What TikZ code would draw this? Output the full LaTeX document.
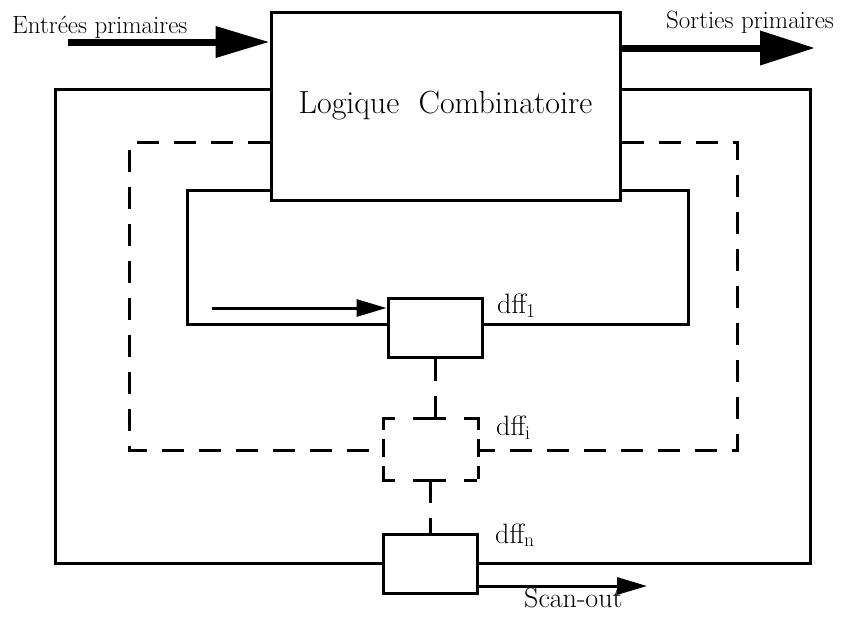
\documentclass[tikz,border=0pt]{standalone}
\usepackage{fontspec}
\usetikzlibrary{arrows.meta}
\begin{document}
\begin{tikzpicture}[x=1pt, y=-1pt,
    wire/.style={line width=3pt},
    dashwire/.style={line width=3pt, dash pattern=on 22pt off 15pt},
    bigarrow/.style={line width=7pt, -{Triangle[length=54pt, width=30pt]}},
    smallarrow/.style={line width=3pt, -{Triangle[length=30pt, width=17pt]}},
    ffbox/.style={draw, line width=3pt, minimum width=94pt, minimum height=59pt, inner sep=0pt},
    lbl/.style={inner sep=0pt, anchor=base west}]

	\useasboundingbox (0,0) rectangle (849,619);

	\node[draw, line width=3pt, minimum width=349pt, minimum height=188pt,
		font=\fontsize{32}{38}\selectfont] (logic) at (445.5,106) {Logique~ Combinatoire};

	\node[ffbox] (dff1) at (435,327.5) {};
	\node[ffbox, draw=none, minimum width=92pt] (dffi) at (431,449.5) {};
	\node[ffbox] (dffn) at (430,564) {};

	% dashed flip-flop
	\draw[line width=3pt, line cap=rect, dash pattern=on 10pt off 21pt on 30pt off 21pt on 10pt]
		(dffi.north west) -- (dffi.north east) (dffi.south west) -- (dffi.south east);
	\draw[line width=3pt, line cap=rect, dash pattern=on 10pt off 12pt on 15pt off 12pt on 10pt]
		(dffi.north west) -- (dffi.south west) (dffi.north east) -- (dffi.south east);

	\coordinate (outerTL) at (55,89);
	\coordinate (outerBL) at (55,563);
	\coordinate (outerTR) at (810,89);
	\coordinate (outerBR) at (810,563);
	\coordinate (innerTL) at (187,190);
	\coordinate (innerBL) at (187,324);
	\coordinate (innerTR) at (688,190);
	\coordinate (innerBR) at (688,324);
	\coordinate (dashTL) at (129,142);
	\coordinate (dashBL) at (129,450);
	\coordinate (dashTR) at (737,142);
	\coordinate (dashBR) at (737,450);

	\draw[wire] (outerTL -| logic.west) -- (outerTL) -- (outerBL) -- (outerBL -| dffn.west);
	\draw[wire] (outerTR -| logic.east) -- (outerTR) -- (outerBR) -- (outerBR -| dffn.east);
	\draw[wire] (innerTL -| logic.west) -- (innerTL) -- (innerBL) -- (innerBL -| dff1.west);
	\draw[wire] (innerTR -| logic.east) -- (innerTR) -- (innerBR) -- (innerBR -| dff1.east);
	\draw[dashwire] (dashTL -| logic.west) -- (dashTL) -- (dashBL) -- (dashBL -| dffi.west);
	\draw[dashwire] (dashTR -| logic.east) -- (dashTR) -- (dashBR) -- (dashBR -| dffi.east);
	\draw[dashwire] (dff1.south) -- (dff1.south |- dffi.north);
	\draw[dashwire] (dffn.north |- dffi.south) -- (dffn.north);

	% primary inputs and outputs
	\coordinate (inTail) at (68,42);
	\coordinate (outHead) at (815,48);
	\draw[bigarrow] (inTail) -- (inTail -| logic.west);
	\draw[bigarrow, -{Triangle[length=55pt, width=33pt]}] (outHead -| logic.east) -- (outHead);

	\coordinate (feedTail) at (212,308);
	\coordinate (scanHead) at (647,586);
	\draw[smallarrow] (feedTail) -- (feedTail -| dff1.west);
	\draw[smallarrow] (scanHead -| dffn.east) -- (scanHead);

	\node[lbl, font=\fontsize{25}{30}\selectfont] (inLbl) at (12,33) {Entrées primaires};
	\node[lbl, font=\fontsize{25}{30}\selectfont] (outLbl) at (666,28) {Sorties primaires};
	\node[lbl, font=\fontsize{28}{32}\selectfont] (lbl1) at (497,313) {dff\textsubscript{1}};
	\node[lbl, font=\fontsize{28}{32}\selectfont] (lbli) at (496,435) {dff\textsubscript{i}};
	\node[lbl, font=\fontsize{28}{32}\selectfont] (lbln) at (495,543) {dff\textsubscript{n}};
	\node[lbl, font=\fontsize{28}{32}\selectfont] (scanLbl) at (524,607) {Scan-out};
\end{tikzpicture}
\end{document}
